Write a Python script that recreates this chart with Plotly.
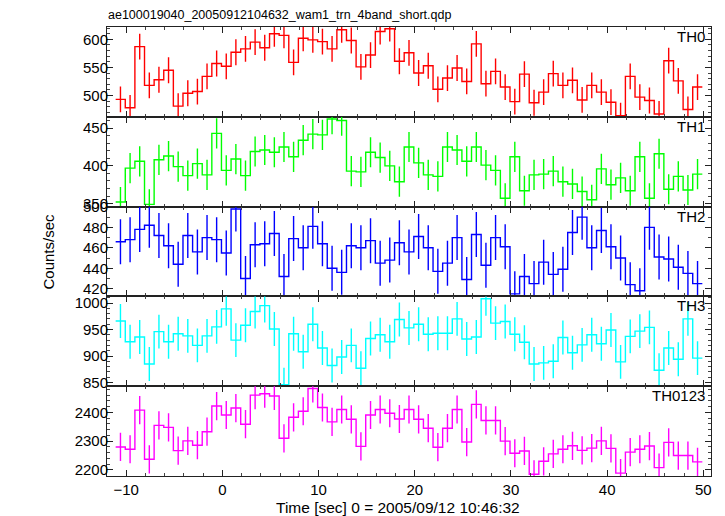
import plotly.graph_objects as go
from plotly.subplots import make_subplots

# bin centres (1 s bins)
time_start = -10.6
n_bins = 61
t = [time_start + i for i in range(n_bins)]

th0 = [493, 478, 587, 518, 528, 545, 481, 504, 507, 534, 557, 552, 577, 583, 595, 585,
       610, 607, 559, 602, 599, 596, 583, 617, 598, 551, 572, 614, 619, 561, 576, 540,
       553, 511, 531, 549, 525, 592, 521, 543, 515, 489, 538, 487, 506, 539, 518, 527,
       492, 518, 506, 488, 464, 534, 497, 491, 467, 562, 526, 475, 515]
th1 = [352, 397, 406, 349, 408, 413, 399, 387, 403, 388, 443, 394, 409, 387, 419, 421,
       418, 425, 412, 434, 442, 441, 462, 460, 393, 392, 418, 411, 400, 379, 425, 404,
       388, 386, 425, 421, 406, 425, 401, 394, 357, 412, 367, 388, 389, 393, 379, 376,
       366, 355, 396, 375, 384, 367, 412, 357, 416, 369, 386, 368, 389]
th2 = [466, 468, 478, 482, 472, 462, 444, 472, 456, 470, 468, 455, 498, 430, 463, 464,
       474, 432, 469, 460, 481, 464, 440, 436, 462, 460, 467, 445, 448, 465, 456, 471,
       460, 437, 445, 470, 429, 473, 443, 470, 461, 415, 432, 425, 446, 434, 439, 475,
       490, 460, 477, 461, 450, 424, 418, 480, 451, 449, 441, 435, 425]
th3 = [966, 927, 936, 885, 946, 927, 942, 938, 920, 938, 955, 989, 930, 958, 984, 995,
       951, 846, 942, 908, 960, 915, 882, 898, 920, 877, 933, 940, 927, 969, 953, 960,
       941, 943, 943, 970, 932, 936, 1008, 962, 965, 941, 926, 885, 887, 890, 935, 906,
       921, 940, 923, 949, 889, 937, 947, 954, 873, 915, 894, 970, 896]
th0123 = [2280, 2272, 2408, 2237, 2355, 2348, 2267, 2301, 2286, 2333, 2422, 2391, 2415,
          2359, 2460, 2465, 2457, 2310, 2383, 2404, 2483, 2417, 2367, 2410, 2376, 2282,
          2391, 2410, 2397, 2377, 2410, 2376, 2345, 2279, 2345, 2410, 2297, 2428, 2372,
          2372, 2300, 2258, 2266, 2185, 2230, 2256, 2272, 2284, 2268, 2276, 2301, 2275,
          2189, 2262, 2272, 2283, 2208, 2296, 2250, 2250, 2228]

series_names = ["TH0", "TH1", "TH2", "TH3", "TH0123"]
series_values = [th0, th1, th2, th3, th0123]
# typical 1-sigma error per band
series_errors = [23, 20, 22, 32, 49]

colors = ["#ff0000", "#00ff00", "#0000ff", "#00ffff", "#ff00ff"]
y_ranges = [[462, 622], [346, 465], [412.5, 500.3], [843, 1012.5], [2179, 2491]]
y_dticks = [50, 50, 20, 50, 100]
y_minor = [10, 10, 10, 10, 20]

title_text = "ae100019040_20050912104632_wam1_trn_4band_short.qdp"
x_title = "Time [sec] 0 = 2005/09/12 10:46:32"
y_title = "Counts/sec"

fig = make_subplots(rows=5, cols=1, shared_xaxes=True, vertical_spacing=0)

FONT = "Liberation Sans, Arial, Helvetica, sans-serif"

for i, (name, vals, err, col) in enumerate(zip(series_names, series_values, series_errors, colors)):
    r = i + 1
    edges = [c - 0.5 for c in t] + [t[-1] + 0.5]
    yy = list(vals) + [vals[-1]]
    fig.add_trace(go.Scatter(x=edges, y=yy, mode="lines", line=dict(color=col, width=1.4, shape="hv"),
                             hoverinfo="skip", showlegend=False), row=r, col=1)
    fig.add_trace(go.Scatter(x=t, y=vals, mode="markers", marker=dict(size=0.1, color=col),
                             error_y=dict(type="constant", value=err, width=0, thickness=1.4, color=col),
                             showlegend=False), row=r, col=1)
    fig.update_yaxes(range=y_ranges[i], dtick=y_dticks[i], tick0=0,
                     minor=dict(dtick=y_minor[i], ticks="inside", ticklen=3, tickcolor="#444", showgrid=False),
                     row=r, col=1)
    yref = "y domain" if r == 1 else f"y{r} domain"
    fig.add_annotation(text=name, xref="paper", yref=yref, x=0.993, y=1.0, xanchor="right", yanchor="top",
                       showarrow=False, font=dict(size=15, color="black", family=FONT), yshift=1)

fig.update_yaxes(showgrid=False, zeroline=False, showline=True, linecolor="#222", linewidth=1,
                 mirror="ticks", ticks="inside", ticklen=6, tickcolor="#222", ticklabelstandoff=-5,
                 tickfont=dict(size=15, color="black", family=FONT))
fig.update_xaxes(range=[-12, 50.8], dtick=10, tick0=0, showgrid=False, zeroline=False, showline=True,
                 linecolor="#222", linewidth=1, mirror="ticks", ticks="inside", ticklen=6, tickcolor="#222",
                 minor=dict(dtick=2, ticks="inside", ticklen=3, tickcolor="#444", showgrid=False),
                 tickfont=dict(size=15, color="black", family=FONT))

fig.add_annotation(text=title_text, xref="paper", yref="paper", x=0, y=1, xanchor="left", yanchor="bottom",
                   showarrow=False, yshift=3, xshift=-1, font=dict(size=12.5, color="black", family=FONT))
fig.add_annotation(text=x_title, xref="paper", yref="paper", x=0.481, y=0, xanchor="center", yanchor="middle",
                   showarrow=False, yshift=-31, font=dict(size=15.5, color="black", family=FONT))
fig.add_annotation(text=y_title, xref="paper", yref="paper", x=0, y=0.5, xanchor="center", yanchor="middle",
                   showarrow=False, xshift=-59, textangle=-90, font=dict(size=15, color="black", family=FONT))

fig.update_layout(width=725, height=516, margin=dict(l=107, r=14, t=27, b=40),
                  paper_bgcolor="white", plot_bgcolor="white", font=dict(family=FONT, color="black"),
                  showlegend=False)

fig.write_html("out.html", config={"displayModeBar": False},
               post_script="document.body.style.margin='0';document.body.style.overflow='hidden';")
